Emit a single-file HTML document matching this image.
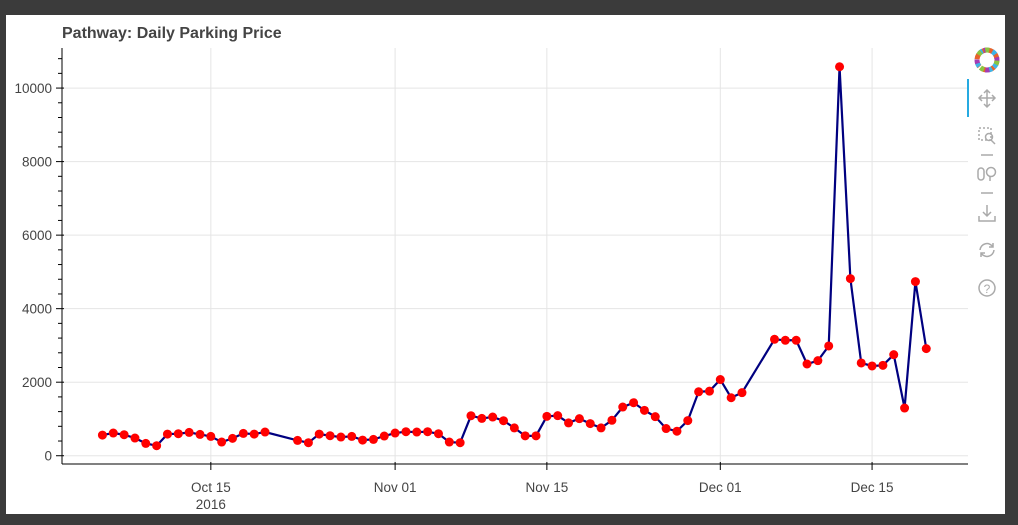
<!DOCTYPE html>
<html><head><meta charset="utf-8"><style>
html,body{margin:0;padding:0;background:#3b3b3b;width:1018px;height:525px;overflow:hidden}
#card{position:absolute;left:6px;top:15px;width:999px;height:499px;background:#fff}
svg{position:absolute;left:0;top:0}
text{font-family:"Liberation Sans",Arial,sans-serif}
</style></head><body>
<div id="card"></div>
<svg id="chart" width="1018" height="525">
<text x="62" y="38" font-size="16" font-weight="bold" fill="#444">Pathway: Daily Parking Price</text>
<g id="grid"></g><g id="axes"></g><g id="marks"></g>
<g id="toolbar">
<rect x="967" y="79" width="2" height="38" fill="#26aae1"/>
<g>
<circle cx="987" cy="60" r="10" fill="none" stroke="#e7622b" stroke-width="5" stroke-dasharray="5 3"/>
<circle cx="987" cy="60" r="10" fill="none" stroke="#3fb4e6" stroke-width="5" stroke-dasharray="4 10" transform="rotate(60 987 60)"/>
<circle cx="987" cy="60" r="10" fill="none" stroke="#a33cb3" stroke-width="5" stroke-dasharray="4 12" transform="rotate(160 987 60)"/>
<circle cx="987" cy="60" r="10" fill="none" stroke="#8bc541" stroke-width="5" stroke-dasharray="4 14" transform="rotate(260 987 60)"/></g>
<g stroke="#aaa" stroke-width="1.5" fill="none">
<path d="M987 90v17M979 98h16M984 93l3-3 3 3M984 104l3 3 3-3M982 95l-3 3 3 3M992 95l3 3-3 3"/>
<rect x="979" y="128" width="12" height="12" stroke-dasharray="2 2"/>
<circle cx="989" cy="137" r="3.5"/><path d="M991 140l4 4"/>
<path d="M981 155h12M981 193h12"/>
<rect x="978" y="168" width="6" height="12" rx="3"/>
<circle cx="991" cy="172" r="4.5"/><path d="M990 177v4"/>
<path d="M987 205v11M983 212l4 4 4-4M979 216v5h16v-5"/>
<path d="M980 250a7 7 0 0 1 13-3M994 250a7 7 0 0 1-13 3M993 243v4h-4M981 257v-4h4"/>
<circle cx="987" cy="288" r="8"/>
</g>
<text x="987" y="293" font-size="12" fill="#aaa" text-anchor="middle">?</text>
</g>
</svg>
<script>
const dates=["2016-10-05","2016-10-06","2016-10-07","2016-10-08","2016-10-09","2016-10-10","2016-10-11","2016-10-12","2016-10-13","2016-10-14","2016-10-15","2016-10-16","2016-10-17","2016-10-18","2016-10-19","2016-10-20",
"2016-10-23","2016-10-24","2016-10-25","2016-10-26","2016-10-27","2016-10-28","2016-10-29","2016-10-30","2016-10-31","2016-11-01","2016-11-02","2016-11-03","2016-11-04","2016-11-05","2016-11-06","2016-11-07","2016-11-08","2016-11-09","2016-11-10","2016-11-11","2016-11-12",
"2016-11-13","2016-11-14","2016-11-15","2016-11-16","2016-11-17","2016-11-18","2016-11-19","2016-11-20","2016-11-21","2016-11-22","2016-11-23","2016-11-24","2016-11-25","2016-11-26","2016-11-27","2016-11-28","2016-11-29","2016-11-30","2016-12-01","2016-12-02","2016-12-03",
"2016-12-06","2016-12-07","2016-12-08","2016-12-09","2016-12-10","2016-12-11","2016-12-12","2016-12-13","2016-12-14","2016-12-15","2016-12-16","2016-12-17","2016-12-18","2016-12-19","2016-12-20"];
const prices=[562,617,571,481,335,272,589,598,635,580,526,372,472,607,589,644,
417,354,589,544,508,526,426,444,535,617,653,644,653,598,372,354,1088,1015,1052,952,757,
541,541,1072,1090,892,1009,874,757,964,1324,1442,1234,1063,739,667,955,1739,1757,2072,1577,1715,
3167,3140,3140,2495,2586,2985,10580,4818,2523,2441,2459,2749,1298,4737,2913];
const yTicks=[0,2000,4000,6000,8000,10000];
const xTicks=["2016-10-15","2016-11-01","2016-11-15","2016-12-01","2016-12-15"];
const xTickLabels=["Oct 15","Nov 01","Nov 15","Dec 01","Dec 15"];

const NS="http://www.w3.org/2000/svg";
const L=62,R=968,T=48,B=464;
const day=86400000,ref=Date.parse("2016-10-15");
const x0=-13.73,x1=69.85,y0=-225,y1=11090;
function X(d){const t=(Date.parse(d)-ref)/day;return L+(t-x0)/(x1-x0)*(R-L);}
function Y(v){return B-(v-y0)/(y1-y0)*(B-T);}
function mk(tag,a,p){const e=document.createElementNS(NS,tag);for(const k in a)e.setAttribute(k,a[k]);p.appendChild(e);return e;}
const grid=document.getElementById('grid'),axes=document.getElementById('axes'),marks=document.getElementById('marks');
yTicks.forEach(v=>{const g=mk('line',{x1:L,x2:R,y1:Y(v),y2:Y(v),stroke:'#e5e5e5','stroke-width':1},grid);


mk('line',{x1:L-6,x2:L+2,y1:Y(v),y2:Y(v),stroke:'#000'},axes);
const lb=mk('text',{x:L-10,y:Y(v)+5,'font-size':13.5,fill:'#444','text-anchor':'end'},axes);lb.textContent=v;

});
for(let v=0;v<=11000;v+=400){if(v%2000===0)continue;mk('line',{x1:L-4,x2:L,y1:Y(v),y2:Y(v),stroke:'#000'},axes);}
xTicks.forEach((d,i)=>{const g=mk('line',{x1:X(d),x2:X(d),y1:T,y2:B,stroke:'#e5e5e5'},grid);


mk('line',{x1:X(d),x2:X(d),y1:B-2,y2:B+6,stroke:'#000'},axes);
const lb=mk('text',{x:X(d),y:B+28,'font-size':13.5,fill:'#444','text-anchor':'middle'},axes);lb.textContent=xTickLabels[i];


if(i===0){const y=mk('text',{x:X(d),y:B+45,'font-size':13.5,fill:'#444','text-anchor':'middle'},axes);y.textContent='2016';}});
mk('line',{x1:L,x2:L,y1:T,y2:B,stroke:'#000'},axes);
mk('line',{x1:L,x2:R,y1:B,y2:B,stroke:'#000'},axes);
const pl=mk('polyline',{points:dates.map((d,i)=>X(d)+','+Y(prices[i])).join(' '),fill:'none',stroke:'#000080','stroke-width':2.2},marks);


dates.forEach((d,i)=>{const c=mk('circle',{cx:X(d),cy:Y(prices[i]),r:4.5,fill:'#ff0000'},marks);

});
</script>
</body></html>
